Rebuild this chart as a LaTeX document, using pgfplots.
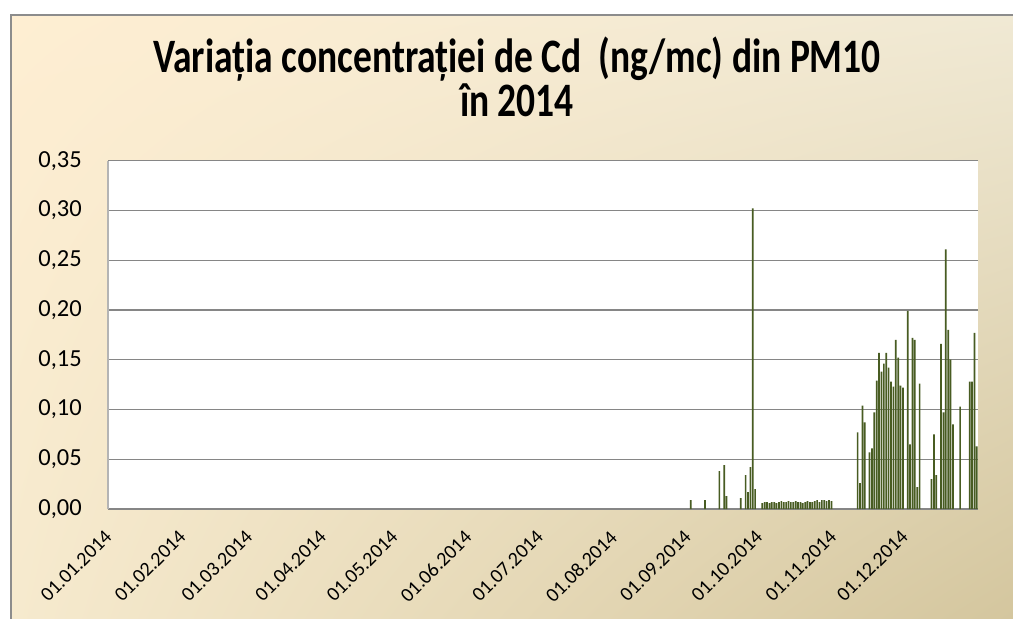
\documentclass[border=0pt]{standalone}
\usepackage{pgfplots}
\pgfplotsset{compat=1.18}
\usepackage{graphicx}
\usepackage{fontspec}
\setmainfont{Carlito}
\usetikzlibrary{shadings}
\definecolor{barcol}{RGB}{72,92,34}
\definecolor{gridcol}{RGB}{134,134,134}
\definecolor{ylinecol}{RGB}{180,180,180}
\definecolor{framecol}{RGB}{140,140,140}
\definecolor{bgA}{RGB}{254,238,210}
\definecolor{bgB}{RGB}{240,233,212}
\definecolor{bgC}{RGB}{246,234,206}
\definecolor{bgD}{RGB}{212,198,158}
\newcommand\sx[1]{\scalebox{1}[1.28]{#1}}
\newcommand\rl[1]{\rotatebox{45}{#1}}
\pgfplotstableread{
d v
244 0.009
250 0.009
256 0.038
258 0.044
259 0.013
265 0.011
267 0.034
268 0.017
269 0.042
270 0.302
271 0.020
274 0.006
275 0.007
276 0.007
277 0.006
278 0.007
279 0.007
280 0.006
281 0.007
282 0.008
283 0.007
284 0.007
285 0.008
286 0.007
287 0.007
288 0.008
289 0.007
290 0.007
291 0.006
292 0.007
293 0.008
294 0.007
295 0.007
296 0.008
297 0.009
298 0.007
299 0.009
300 0.009
301 0.008
302 0.009
303 0.008
314 0.077
315 0.026
316 0.104
317 0.087
319 0.057
320 0.061
321 0.097
322 0.129
323 0.157
324 0.138
325 0.146
326 0.157
327 0.142
328 0.128
329 0.123
330 0.170
331 0.152
332 0.124
333 0.122
335 0.199
336 0.065
337 0.172
338 0.170
339 0.022
340 0.126
345 0.030
346 0.075
347 0.034
349 0.166
350 0.097
351 0.261
352 0.180
353 0.150
354 0.085
357 0.103
361 0.128
362 0.128
363 0.177
364 0.063
}\cddata
\begin{document}
\begin{tikzpicture}[x=1pt,y=1pt]
\path[use as bounding box] (0,0) rectangle (1013,619);
\fill[white] (0,0) rectangle (1013,619);
\shade[upper left=bgA, upper right=bgB, lower left=bgC, lower right=bgD] (12,0) rectangle (1013,603);
\draw[framecol, line width=2pt] (11,0) -- (11,604) -- (1013,604);
\node[anchor=base, inner sep=0pt] at (517,546) {\sx{\fontsize{37.5}{40}\selectfont\bfseries Variația  concentrației de Cd\ \ (ng/mc) din PM10}};
\node[anchor=base, inner sep=0pt] at (517,502) {\sx{\fontsize{37.5}{40}\selectfont\bfseries în 2014}};
\begin{axis}[
  at={(108pt,110pt)}, anchor=south west,
  scale only axis, width=870pt, height=348.3pt,
  xmin=-0.5, xmax=364.5, ymin=0, ymax=0.35,
  axis background/.style={fill=white},
  axis lines=left,
  axis line style={-},
  x axis line style={draw=gridcol, line width=1.2pt},
  y axis line style={draw=ylinecol, line width=1pt},
  major tick length=0pt,
  ymajorgrids,
  major grid style={draw=gridcol, line width=1.2pt},
  ytick={0,0.05,0.1,0.15,0.2,0.25,0.3,0.35},
  /pgf/number format/.cd, fixed, fixed zerofill, precision=2, use comma, assume math mode=true,
  /pgfplots/.cd,
  yticklabel style={font=\fontsize{24.5}{26}\selectfont, anchor=east, inner sep=0pt, xshift=-26pt},
  xtick={0,31,59,90,120,151,181,212,243,273,304,334},
  xticklabels={\rl{01.01.2014},\rl{01.02.2014},\rl{01.03.2014},\rl{01.04.2014},\rl{01.05.2014},\rl{01.06.2014},\rl{01.07.2014},\rl{01.08.2014},\rl{01.09.2014},\rl{01.10.2014},\rl{01.11.2014},\rl{01.12.2014}},
  xticklabel style={font=\fontsize{20}{22}\selectfont, inner sep=0pt, anchor=north east, xshift=4pt, yshift=-20pt},
  ybar, bar width=1.7pt,
]
\addplot[fill=barcol, draw=none] table[x=d, y=v] {\cddata};
\end{axis}
\end{tikzpicture}
\end{document}
